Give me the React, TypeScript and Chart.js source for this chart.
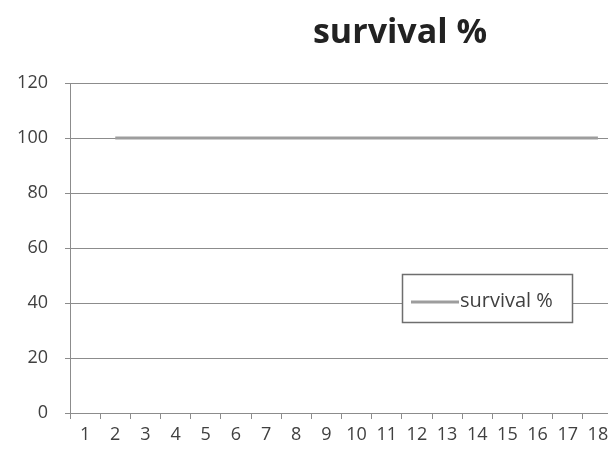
import React, { useEffect, useRef } from 'react';
import { Chart, registerables } from 'chart.js';

Chart.register(...registerables);

const categories: string[] = ['1', '2', '3', '4', '5', '6', '7', '8', '9', '10', '11', '12', '13', '14', '15', '16', '17', '18'];
const survival: (number | null)[] = [null, 100, 100, 100, 100, 100, 100, 100, 100, 100, 100, 100, 100, 100, 100, 100, 100, 100];
const seriesLabel = 'survival %';
const chartTitle = 'survival %';
const yMin = 0;
const yMax = 120;
const yStep = 20;

const FONT = '"Open Sans", "DejaVu Sans", sans-serif';

const titlePlugin = {
  id: 'centeredTitle',
  afterDraw(chart: any) {
    const ctx = chart.ctx as CanvasRenderingContext2D;
    ctx.save();
    ctx.fillStyle = '#222222';
    ctx.font = `bold 34px ${FONT}`;
    ctx.textAlign = 'center';
    ctx.textBaseline = 'alphabetic';
    ctx.fillText(chartTitle, chart.width / 2, 43);
    ctx.restore();
  },
};

const boxLegend = {
  id: 'boxLegend',
  afterDraw(chart: any) {
    const ctx = chart.ctx as CanvasRenderingContext2D;
    const ds = chart.data.datasets[0];
    const x = 402, y = 274, w = 170, h = 48;
    ctx.save();
    ctx.fillStyle = '#ffffff';
    ctx.fillRect(x, y, w, h);
    ctx.strokeStyle = '#6e6e6e';
    ctx.lineWidth = 1.5;
    ctx.strokeRect(x + 0.5, y + 0.5, w, h);
    const cy = y + h / 2 + 4;
    ctx.strokeStyle = ds.borderColor;
    ctx.lineWidth = 3;
    ctx.beginPath();
    ctx.moveTo(x + 9, cy);
    ctx.lineTo(x + 57, cy);
    ctx.stroke();
    ctx.fillStyle = '#404040';
    ctx.font = `20px ${FONT}`;
    ctx.textBaseline = 'middle';
    ctx.textAlign = 'left';
    ctx.fillText(ds.label, x + 58, cy - 1);
    ctx.restore();
  },
};

export default function App() {
  const ref = useRef<HTMLCanvasElement | null>(null);
  useEffect(() => {
    if (!ref.current) return;
    const chart = new Chart(ref.current, {
      type: 'line',
      data: {
        labels: categories,
        datasets: [
          {
            label: seriesLabel,
            data: survival,
            borderColor: '#9d9d9d',
            backgroundColor: '#9d9d9d',
            borderWidth: 3,
            pointRadius: 0,
            fill: false,
            tension: 0,
          },
        ],
      },
      options: {
        responsive: false,
        animation: false,
        devicePixelRatio: 1,
        layout: { padding: { left: 0, right: 187, top: 83, bottom: 0 } },
        plugins: {
          legend: { display: false },
          tooltip: { enabled: false },
          title: { display: false },
        },
        scales: {
          x: {
            type: 'category',
            offset: true,
            afterFit: (s: any) => { s.height = 40; },
            grid: {
              display: true,
              drawOnChartArea: false,
              drawTicks: true,
              tickLength: 6,
              offset: true,
              color: '#8c8c8c',
            },
            border: { display: true, color: '#8c8c8c', width: 1 },
            ticks: {
              color: '#404040',
              font: { family: FONT, size: 18 },
              padding: 5,
              maxRotation: 0,
              autoSkip: false,
            },
          },
          y: {
            min: yMin,
            max: yMax,
            afterFit: (s: any) => { s.width = 70; },
            grid: {
              color: '#8c8c8c',
              drawTicks: true,
              tickLength: 5,
            },
            border: { display: true, color: '#8c8c8c', width: 1 },
            ticks: {
              stepSize: yStep,
              color: '#404040',
              font: { family: FONT, size: 18 },
              padding: 17,
            },
          },
        },
      },
      plugins: [titlePlugin, boxLegend],
    });
    return () => chart.destroy();
  }, []);
  return (
    <div style={{ position: 'fixed', left: 0, top: 0, width: 608, height: 453, overflow: 'hidden', background: '#fff' }}>
      <canvas ref={ref} width={800} height={453} style={{ width: 800, height: 453, display: 'block' }} />
    </div>
  );
}
